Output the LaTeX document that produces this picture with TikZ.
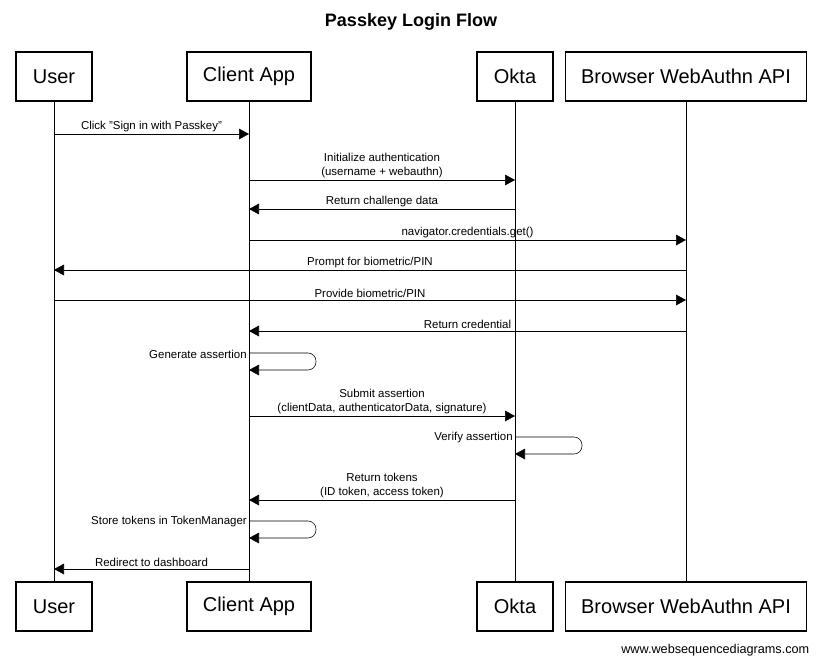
\documentclass[tikz,border=0pt]{standalone}
\usepackage{fontspec}
\setmainfont{Liberation Sans}
\usetikzlibrary{calc, positioning, arrows.meta}

\begin{document}
\begin{tikzpicture}[
            x=0.75pt, y=-0.75pt, % pixel units
            actor_style/.style={draw, thick, minimum height=36.75pt, inner sep=0pt, font=\fontsize{15}{18}\selectfont},
            life_style/.style={thin},
            msg_style/.style={-{Triangle[length=7.5pt,width=8pt]}, thin},
            msg_label/.style={font=\fontsize{8.6}{10.6}\selectfont, align=center, inner sep=1.5pt, anchor=south}
        ]
        \useasboundingbox (0,0) rectangle (823,665);

        % Title
        \node[font=\bfseries\fontsize{13.5}{16}\selectfont] (title) at (411,22) {Passkey Login Flow};

        % Actors at top and bottom
        \node[actor_style, minimum width=57pt]  (userT)    at (54,76.5)  {User};
        \node[actor_style, minimum width=93pt]  (clientT)  at (249,76.5) {Client App};
        \node[actor_style, minimum width=57pt]  (oktaT)    at (515,76.5) {Okta};
        \node[actor_style, minimum width=180.75pt] (browserT) at (686,76.5) {Browser WebAuthn API};
        \node[actor_style, minimum width=57pt]  (userB)    at (54,606.5)  {User};
        \node[actor_style, minimum width=93pt]  (clientB)  at (249,606.5) {Client App};
        \node[actor_style, minimum width=57pt]  (oktaB)    at (515,606.5) {Okta};
        \node[actor_style, minimum width=180.75pt] (browserB) at (686,606.5) {Browser WebAuthn API};

        % Lifelines
        \foreach \a in {user, client, okta, browser} { \draw[life_style] (\a T) -- (\a B); }

        % Messages between lifelines
        \foreach \f/\t/\y/\txt in {
                user/client/134/{Click "Sign in with Passkey"},
                client/okta/180/{Initialize authentication\\(username + webauthn)},
                okta/client/209/{Return challenge data},
                client/browser/240/{navigator.credentials.get()},
                browser/user/270/{Prompt for biometric/PIN},
                user/browser/300/{Provide biometric/PIN},
                browser/client/331/{Return credential},
                client/okta/416/{Submit assertion\\(clientData, authenticatorData, signature)},
                okta/client/500/{Return tokens\\(ID token, access token)},
                client/user/569/{Redirect to dashboard}} {
                \draw[msg_style] (\f T |- 0,\y) -- node[msg_label] {\txt} (\t T |- 0,\y);
            }

        % Self messages
        \foreach \a/\y/\txt in {client/353/{Generate assertion}, okta/437/{Verify assertion}, client/521/{Store tokens in TokenManager}} {
                \coordinate (loop\y) at ($(\a T |- 0,\y) + (67,0)$);
                \draw[msg_style, rounded corners=6pt] (\a T |- 0,\y) -- (loop\y) -- (loop\y |- 0,\y+17) -- (\a T |- 0,\y+17);
                \node[msg_label, anchor=south east] at (\a T |- 0,\y+8) {\txt};
            }

        % Footer
        \node[font=\fontsize{9.5}{11}\selectfont, anchor=east] (credit) at (814,650) {www.websequencediagrams.com};

    \end{tikzpicture}
\end{document}
